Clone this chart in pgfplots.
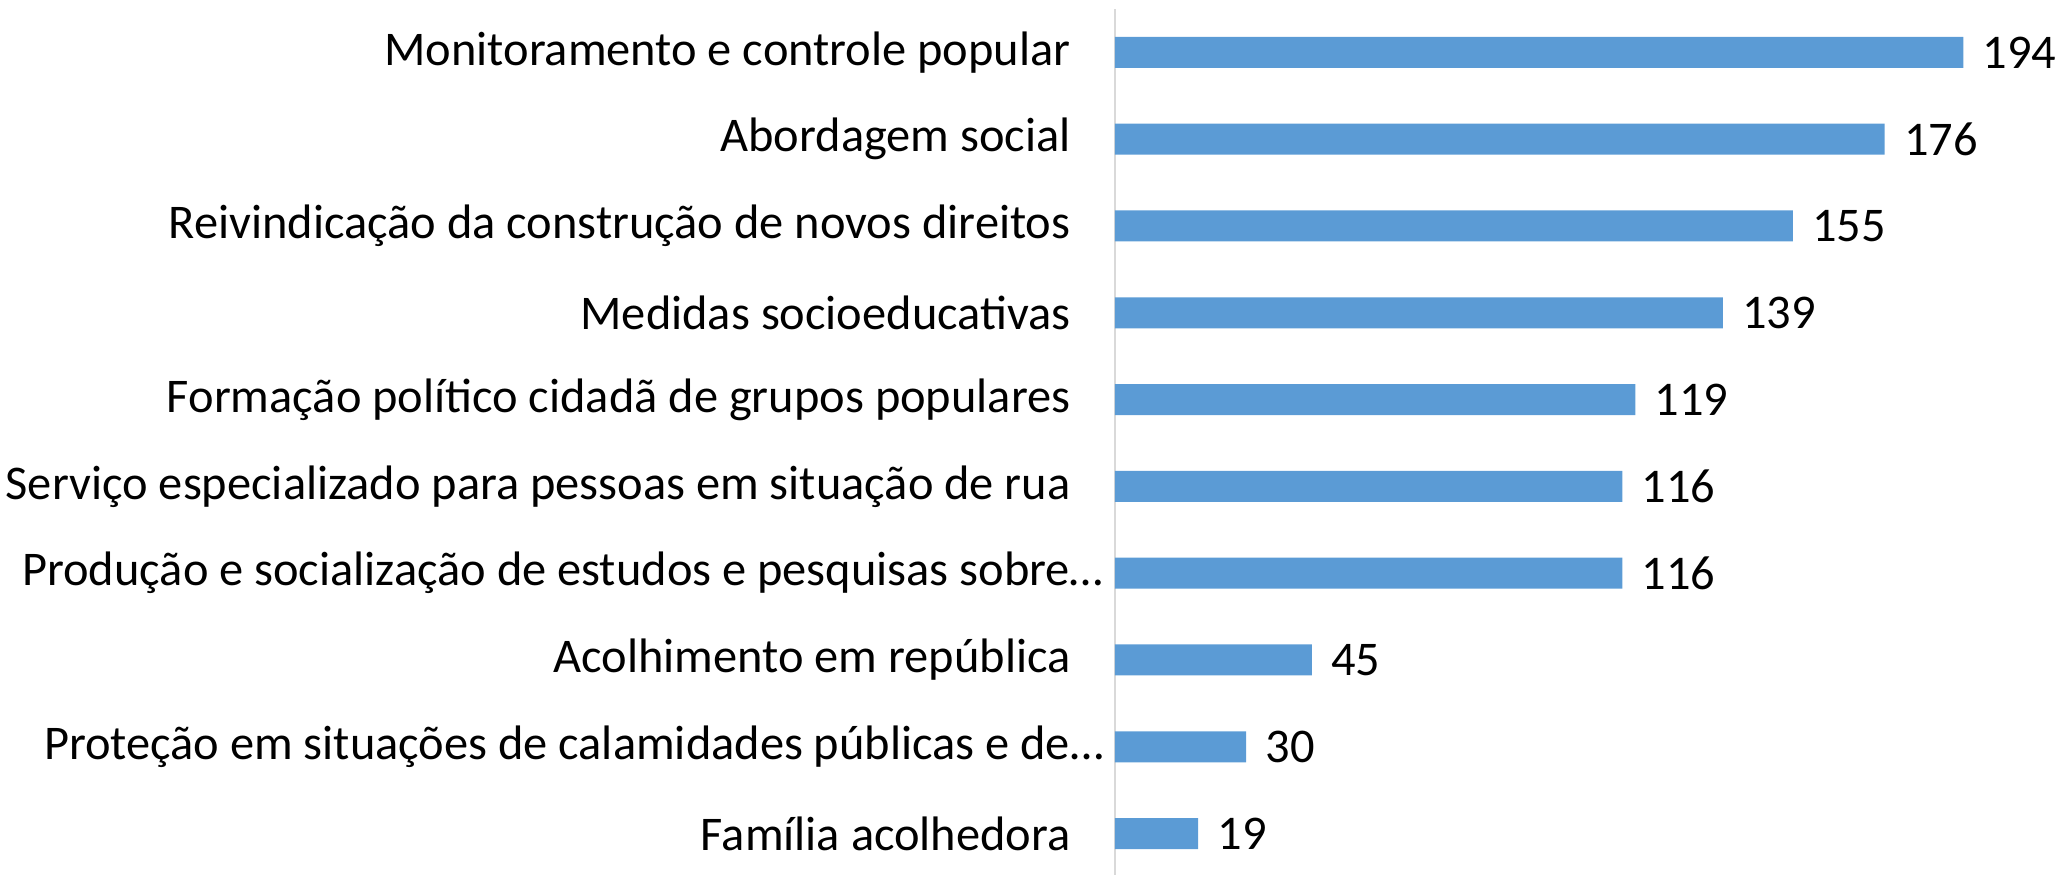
\documentclass[border=0pt]{standalone}
\usepackage{pgfplots}
\pgfplotsset{compat=1.18}
\usepackage{fontspec}
\setmainfont{Carlito}
\definecolor{barblue}{HTML}{5B9BD5}
\definecolor{axisgray}{HTML}{D9D9D9}
\newcommand{\gap}{\rule{16.5pt}{0pt}}
\begin{document}
\begin{tikzpicture}
\begin{axis}[
  at={(0,0)}, anchor=south west,
  scale only axis,
  width=470.1pt, height=434pt,
  xbar, bar width=15.5pt,
  xmin=0, xmax=215,
  ymin=-0.5, ymax=9.5,
  axis x line=none,
  axis y line*=left,
  y axis line style={draw=axisgray, line width=1pt},
  ytick={0,...,9},
  major tick length=0pt,
  yticklabels={
    Família acolhedora\gap,
    Proteção em situações de calamidades públicas e de…,
    Acolhimento em república\gap,
    Produção e socialização de estudos e pesquisas sobre…,
    Serviço especializado para pessoas em situação de rua\gap,
    Formação político cidadã de grupos populares\gap,
    Medidas socioeducativas\gap,
    Reivindicação da construção de novos direitos\gap,
    Abordagem social\gap,
    Monitoramento e controle popular\gap
  },
  yticklabel style={font=\fontsize{24.2pt}{29pt}\selectfont, anchor=east, inner sep=0pt, xshift=-5.5pt},
  nodes near coords,
  nodes near coords style={font=\fontsize{24.2pt}{29pt}\selectfont, anchor=west, inner sep=0pt, xshift=9.5pt, text=black, /pgf/number format/assume math mode=true},
  point meta=x,
  clip=false,
]
\addplot[fill=barblue, draw=none] coordinates {
  (19,0) (30,1) (45,2) (116,3) (116,4) (119,5) (139,6) (155,7) (176,8) (194,9)
};
\end{axis}
\pgfresetboundingbox
\useasboundingbox (-557.5pt,1.5pt) rectangle (471.5pt,438.5pt);
\end{tikzpicture}
\end{document}
